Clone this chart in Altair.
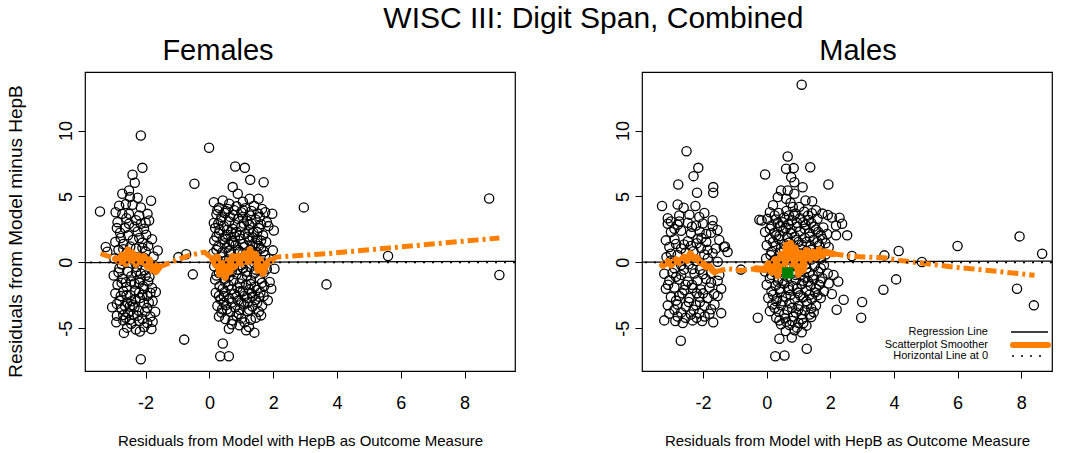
import altair as alt
import pandas as pd

FONT = "Liberation Sans"
ORANGE = "#ff8000"
GREEN = "#008000"

# axis ranges and tick values
Y_DOMAIN = [-8.24, 14.44]
FEMALE_X_DOMAIN = [-3.90, 9.58]
MALE_X_DOMAIN = [-3.92, 8.97]
X_TICKS = [-2, 0, 2, 4, 6, 8]
Y_TICKS = [-5, 0, 5, 10]

MAIN_TITLE = "WISC III: Digit Span, Combined"
X_TITLE = "Residuals from Model with HepB as Outcome Measure"
Y_TITLE = "Residuals from Model minus HepB"
LEGEND_LABELS = ["Regression Line", "Scatterplot Smoother", "Horizontal Line at 0"]

# ---- Females: residual pairs -------------------------------------------
female_low_group = [
    (-2.15, 9.62), (-2.10, 7.17), (-2.41, 6.64), (-2.34, 6.04), (-2.52, 5.45), (-2.73, 5.20),
    (-2.49, 4.95), (-2.25, 4.90), (-2.83, 4.30), (-2.62, 4.42), (-2.41, 4.37), (-2.15, 4.17),
    (-1.83, 4.68), (-2.94, 3.80), (-2.73, 3.68), (-2.52, 3.68), (-2.20, 3.56), (-1.94, 3.68),
    (-2.88, 3.05), (-2.52, 2.93), (-2.15, 2.93), (-1.89, 3.18), (-2.80, 2.25), (-2.55, 2.05),
    (-2.25, 2.35), (-1.98, 2.10), (-1.62, 0.90), (-2.95, 1.55), (-2.70, 1.40), (-2.40, 1.70),
    (-2.10, 1.50), (-1.80, 1.75), (-3.25, 1.16), (-3.20, 0.80), (-3.43, 3.86), (-2.85, 0.95),
    (-2.60, 0.70), (-2.30, 1.05), (-2.00, 0.80), (-1.75, 0.45), (-2.98, 0.30), (-2.70, 0.10),
    (-2.45, 0.40), (-2.15, 0.15), (-1.90, -0.05), (-2.82, -0.45), (-2.55, -0.70), (-2.28, -0.35),
    (-2.02, -0.60), (-1.72, -0.30), (-3.00, -1.00), (-2.72, -1.25), (-2.45, -1.05), (-2.18, -1.30),
    (-1.88, -1.10), (-2.88, -1.70), (-2.60, -1.85), (-2.35, -1.60), (-2.08, -1.80), (-1.80, -1.95),
    (-2.95, -2.35), (-2.70, -2.20), (-2.48, -2.50), (-2.20, -2.30), (-1.95, -2.55), (-1.68, -2.25),
    (-2.82, -2.90), (-2.58, -3.05), (-2.32, -2.80), (-2.05, -3.10), (-1.78, -2.95), (-3.05, -3.40),
    (-2.75, -3.55), (-2.50, -3.35), (-2.22, -3.65), (-1.95, -3.45), (-1.70, -3.75), (-2.90, -4.05),
    (-2.62, -4.20), (-2.38, -3.95), (-2.10, -4.30), (-1.85, -4.10), (-2.92, -4.55), (-2.70, -4.40),
    (-2.45, -4.65), (-1.78, -4.50), (-2.58, -4.95), (-2.30, -5.10), (-2.05, -4.90), (-1.82, -5.05),
    (-2.68, -5.35), (-2.18, -5.25), (-2.15, -7.35), (-2.65, 2.60), (-2.35, 2.70), (-2.05, 2.55),
    (-2.78, 1.85), (-2.48, 1.20), (-2.20, 1.85), (-1.92, 1.25), (-2.62, 0.35), (-2.32, -0.05),
    (-2.05, 0.35), (-2.75, -0.15), (-2.45, -1.45), (-2.15, -0.85), (-2.62, -1.50), (-1.92, -1.45),
    (-2.78, -2.55), (-2.32, -2.15), (-2.05, -2.00), (-2.45, -2.95), (-2.18, -2.70), (-2.65, -3.30),
    (-2.35, -3.40), (-2.02, -3.75), (-2.55, -3.85), (-2.25, -4.05), (-1.95, -4.60),
    (-2.90, 2.60), (-2.60, 3.35), (-2.30, 3.20), (-2.00, 3.00), (-2.70, 1.00), (-2.10, 1.10),
    (-2.85, -0.75), (-2.30, -0.75), (-2.00, -1.00), (-2.75, -1.55), (-2.20, -1.55), (-2.60, -2.50),
    (-2.10, -2.45), (-1.85, -2.30), (-2.90, -3.15), (-2.40, -3.25), (-1.90, -3.05), (-2.70, -4.00),
    (-2.20, -4.45), (-2.50, -4.35),
]

female_high_group = [
    (-0.01, 8.69), (0.81, 7.27), (1.11, 7.17), (1.28, 6.26), (1.70, 6.08), (0.73, 5.71),
    (0.14, 4.56), (0.42, 4.70), (0.89, 5.20), (1.26, 4.82), (1.54, 4.82), (0.62, 4.45),
    (1.05, 4.60), (1.75, 3.80), (1.97, 3.69), (0.14, 2.98), (2.96, 4.17), (-0.47, 5.96),
    (0.30, 4.15), (0.58, 4.05), (0.85, 4.25), (1.12, 4.10), (1.40, 4.30), (1.65, 4.05),
    (0.22, 3.65), (0.48, 3.75), (0.75, 3.60), (1.00, 3.80), (1.28, 3.55), (1.52, 3.70),
    (0.35, 3.20), (0.62, 3.10), (0.90, 3.30), (1.18, 3.15), (1.45, 3.25), (1.80, 3.05),
    (0.18, 2.60), (0.45, 2.75), (0.72, 2.55), (1.00, 2.70), (1.25, 2.85), (1.55, 2.60),
    (1.85, 2.75), (0.30, 2.20), (0.58, 2.10), (0.85, 2.30), (1.12, 2.15), (1.38, 2.25),
    (1.68, 2.05), (2.02, 2.42), (0.15, 1.65), (0.42, 1.75), (0.70, 1.60), (0.98, 1.80),
    (1.25, 1.65), (1.50, 1.75), (1.78, 1.55), (0.28, 1.20), (0.55, 1.10), (0.82, 1.30),
    (1.10, 1.15), (1.35, 1.25), (1.62, 1.05), (1.99, 0.91), (0.12, 0.70), (0.40, 0.75),
    (0.68, 0.60), (0.95, 0.80), (1.22, 0.65), (1.48, 0.78), (1.75, 0.55), (0.25, 0.20),
    (0.52, 0.15), (0.80, 0.30), (1.08, 0.10), (1.32, 0.25), (1.60, 0.05), (1.88, 0.25),
    (0.15, -0.30), (0.45, -0.25), (0.72, -0.40), (1.00, -0.20), (1.28, -0.35), (1.55, -0.28),
    (2.04, -0.48), (0.30, -0.80), (0.58, -0.75), (0.85, -0.90), (1.15, -0.70), (1.40, -0.85),
    (1.70, -0.78), (0.18, -1.30), (0.48, -1.25), (0.75, -1.40), (1.02, -1.20), (1.30, -1.35),
    (1.58, -1.25), (1.89, -1.49), (0.32, -1.80), (0.60, -1.75), (0.88, -1.90), (1.15, -1.70),
    (1.42, -1.85), (1.72, -1.80), (1.94, -2.00), (0.20, -2.30), (0.48, -2.25), (0.78, -2.40),
    (1.05, -2.20), (1.32, -2.35), (1.60, -2.28), (0.35, -2.80), (0.62, -2.75), (0.90, -2.90),
    (1.18, -2.70), (1.45, -2.85), (1.83, -2.88), (0.25, -3.30), (0.52, -3.25), (0.80, -3.40),
    (1.08, -3.20), (1.35, -3.35), (1.65, -3.28), (0.38, -3.80), (0.65, -3.75), (0.92, -3.90),
    (1.20, -3.70), (1.62, -4.02), (0.50, -4.30), (0.73, -4.40), (1.00, -4.25), (1.30, -4.35),
    (0.61, -5.03), (0.94, -4.77), (1.15, -5.15), (1.41, -5.33), (1.24, -4.90), (0.42, -6.16),
    (0.34, -7.12), (0.61, -7.12), (-0.79, -5.86), (-0.52, -0.91), (-0.97, 0.40), (-0.73, 0.62),
    (0.38, 3.45), (0.65, 3.45), (1.05, 3.45), (1.32, 2.95), (0.55, 2.45), (0.95, 2.05),
    (1.20, 1.95), (0.62, 1.35), (0.90, 0.95), (1.45, 1.45), (0.35, 0.45), (1.15, 0.45),
    (1.40, -0.05), (0.60, -0.05), (0.88, -0.55), (1.18, -1.00), (0.62, -1.05), (0.95, -1.60),
    (1.25, -2.05), (0.70, -2.05), (0.45, -2.55), (1.10, -2.55), (1.55, -2.60), (0.70, -3.05),
    (1.00, -3.05), (1.25, -3.60), (0.55, -3.55), (0.85, -4.05), (1.55, -3.75), (0.30, -4.10),
    (0.25, 3.95), (0.52, 3.90), (0.78, 3.95), (1.05, 3.95), (1.32, 3.90), (1.58, 3.45),
    (0.28, 2.95), (0.80, 2.85), (1.08, 2.95), (1.62, 2.90), (0.32, 2.45), (0.68, 2.30),
    (1.25, 2.45), (1.50, 2.30), (0.22, 1.95), (0.50, 1.95), (0.80, 1.95), (1.35, 1.90),
    (1.62, 1.65), (0.48, 1.45), (0.75, 1.45), (1.05, 1.40), (1.30, 0.95), (1.55, 1.25),
    (0.22, 0.95), (0.62, 0.90), (1.05, 0.70), (1.70, 0.85), (0.40, -0.55), (0.70, -0.70),
    (1.05, -0.45), (1.45, -0.55), (1.80, -0.50), (0.22, -1.00), (0.50, -1.50), (1.30, -1.65),
    (1.65, -1.55), (0.42, -2.00), (0.95, -2.20), (1.48, -2.10), (0.30, -2.55), (0.85, -2.60),
    (1.35, -2.60), (1.70, -2.55), (0.45, -3.05), (1.20, -3.05), (1.50, -3.05), (0.95, -3.60),
    (0.40, -3.55), (1.45, -4.20), (0.70, -4.70), (1.10, -4.55),
]

female_outlying = [(3.67, -1.67), (5.60, 0.48), (8.77, 4.85), (9.09, -0.96)]

# ---- Males: residual pairs ---------------------------------------------
male_low_group = [
    (-2.52, 8.43), (-2.15, 7.17), (-2.30, 6.54), (-2.78, 5.91), (-1.68, 5.71), (-1.68, 5.28),
    (-2.19, 5.28), (-3.29, 4.27), (-2.80, 4.39), (-2.61, 4.14), (-2.24, 4.27), (-3.11, 3.35),
    (-3.01, 3.10), (-2.75, 3.55), (-2.43, 3.62), (-2.12, 3.45), (-1.96, 3.75), (-1.70, 3.20),
    (-3.11, 2.93), (-2.80, 2.85), (-2.48, 3.00), (-2.22, 2.80), (-2.01, 2.95), (-1.70, 2.75),
    (-3.01, 2.30), (-2.69, 2.40), (-2.38, 2.20), (-2.11, 2.35), (-1.90, 2.15), (-1.55, 2.45),
    (-3.17, 1.67), (-2.90, 1.75), (-2.48, 1.60), (-2.17, 1.80), (-1.90, 1.55), (-1.49, 1.70),
    (-1.31, 1.20), (-3.06, 1.16), (-2.69, 1.05), (-2.38, 1.25), (-2.07, 1.10), (-1.86, 0.95),
    (-1.35, 1.16), (-3.01, 0.66), (-2.80, 0.55), (-2.54, 0.75), (-1.96, 0.60), (-1.70, 0.70),
    (-1.23, 0.78), (-3.01, 0.15), (-2.69, -0.20), (-2.22, 0.10), (-1.54, 0.05), (-2.90, -0.45),
    (-2.33, -0.50), (-3.22, -0.86), (-2.96, -0.80), (-2.69, -0.95), (-2.27, -0.85), (-2.01, -0.90),
    (-1.75, -0.80), (-1.49, -0.95), (-3.06, -1.36), (-2.75, -1.30), (-2.48, -1.45), (-2.17, -1.35),
    (-1.91, -1.25), (-1.54, -1.40), (-3.17, -2.00), (-2.90, -1.90), (-2.59, -2.10), (-2.33, -1.95),
    (-2.07, -2.05), (-1.80, -1.90), (-1.43, -2.00), (-3.01, -2.63), (-2.75, -2.55), (-2.43, -2.70),
    (-2.12, -2.60), (-1.86, -2.70), (-1.54, -2.55), (-3.11, -3.26), (-2.80, -3.20), (-2.54, -3.35),
    (-2.22, -3.25), (-1.96, -3.30), (-1.64, -3.20), (-3.06, -3.89), (-2.69, -3.80), (-2.38, -3.95),
    (-2.12, -3.85), (-1.80, -3.90), (-1.43, -3.85), (-3.22, -4.40), (-2.87, -4.45), (-2.64, -4.60),
    (-2.33, -4.40), (-2.03, -4.45), (-1.68, -4.55), (-2.70, -5.95), (-2.90, 2.55), (-2.60, 1.35),
    (-2.30, 0.85), (-2.45, -0.15), (-2.85, -1.10), (-2.35, -1.70), (-2.65, -2.35), (-2.00, -2.35),
    (-2.45, -3.00), (-2.90, -3.60), (-2.30, -3.60), (-2.55, -4.20), (-1.75, -1.55), (-1.85, 0.30),
    (-0.81, -0.55),
    (-3.15, 0.40), (-2.75, 3.10), (-2.35, 2.70), (-2.05, 1.85), (-1.75, 2.25), (-2.85, 1.40),
    (-2.20, 1.45), (-1.60, 1.05), (-2.60, -0.55), (-2.10, -0.55), (-3.10, -1.70), (-2.55, -1.70),
    (-2.20, -2.35), (-1.65, -2.40), (-2.85, -2.90), (-2.10, -3.00), (-1.75, -3.55), (-2.80, -4.10),
    (-2.20, -4.20), (-1.95, -4.10),
]

male_high_group = [
    (1.10, 13.48), (0.66, 8.03), (0.61, 7.10), (0.85, 7.15), (1.37, 7.22), (-0.05, 6.67),
    (0.77, 6.46), (0.87, 6.08), (1.13, 5.70), (1.94, 5.91), (0.45, 5.45), (0.66, 5.45),
    (0.87, 5.20), (0.35, 4.95), (0.61, 4.82), (1.22, 4.70), (1.43, 4.64), (0.20, 4.33),
    (0.82, 4.20), (1.02, 4.20), (-0.23, 3.23), (-0.16, 3.18), (2.29, 3.38), (2.18, 2.80),
    (2.37, 2.93), (2.53, 2.05), (2.18, 2.05), (2.68, 0.48), (1.55, 3.95), (1.75, 3.70),
    (1.92, 3.60), (2.05, 3.40), (0.10, 3.80), (0.38, 3.75), (0.62, 3.90), (0.90, 3.70),
    (1.18, 3.85), (1.42, 3.72), (0.02, 3.30), (0.28, 3.25), (0.55, 3.40), (0.80, 3.20),
    (1.05, 3.35), (1.32, 3.22), (1.60, 3.30), (0.15, 2.80), (0.42, 2.75), (0.68, 2.90),
    (0.95, 2.70), (1.22, 2.85), (1.48, 2.72), (1.78, 2.65), (-0.05, 2.30), (0.25, 2.25),
    (0.52, 2.40), (0.78, 2.20), (1.05, 2.35), (1.35, 2.22), (1.62, 2.30), (1.90, 2.15),
    (0.10, 1.80), (0.38, 1.75), (0.65, 1.90), (0.92, 1.70), (1.20, 1.85), (1.48, 1.72),
    (1.75, 1.80), (0.00, 1.30), (0.28, 1.25), (0.55, 1.40), (0.82, 1.20), (1.10, 1.35),
    (1.38, 1.22), (1.65, 1.30), (1.95, 1.15), (0.15, 0.80), (0.42, 0.75), (0.70, 0.90),
    (0.98, 0.70), (1.25, 0.85), (1.52, 0.72), (1.85, 0.60), (-0.02, 0.30), (0.30, 0.25),
    (0.58, 0.40), (0.85, 0.20), (1.12, 0.35), (1.40, 0.22), (1.70, 0.30), (0.12, -0.20),
    (0.40, -0.25), (0.68, -0.10), (0.95, -0.30), (1.22, -0.15), (1.50, -0.28), (1.80, -0.20),
    (-0.05, -0.70), (0.25, -0.75), (0.52, -0.60), (0.80, -0.80), (1.08, -0.65), (1.35, -0.78),
    (1.62, -0.70), (1.92, -0.85), (0.10, -1.20), (0.38, -1.25), (0.65, -1.10), (0.92, -1.30),
    (1.20, -1.15), (1.48, -1.28), (1.75, -1.20), (0.00, -1.70), (0.28, -1.75), (0.55, -1.60),
    (0.82, -1.80), (1.10, -1.65), (1.38, -1.78), (1.65, -1.70), (1.95, -1.60), (0.15, -2.20),
    (0.42, -2.25), (0.70, -2.10), (0.98, -2.30), (1.25, -2.15), (1.52, -2.28), (1.80, -2.20),
    (0.05, -2.70), (0.32, -2.75), (0.60, -2.60), (0.88, -2.80), (1.15, -2.65), (1.42, -2.78),
    (1.70, -2.70), (0.18, -3.20), (0.45, -3.25), (0.72, -3.10), (1.00, -3.30), (1.28, -3.15),
    (1.55, -3.28), (0.10, -3.70), (0.38, -3.75), (0.65, -3.60), (0.92, -3.80), (1.20, -3.65),
    (1.48, -3.78), (0.30, -4.20), (0.58, -4.25), (0.85, -4.10), (1.12, -4.30), (1.40, -4.15),
    (0.45, -4.70), (0.72, -4.75), (1.00, -4.60), (1.25, -4.80), (0.60, -5.20), (0.88, -5.15),
    (1.10, -5.30), (0.40, -5.80), (0.79, -5.70), (1.26, -6.55), (0.27, -7.12), (0.56, -7.07),
    (-0.28, -4.20), (2.42, -2.83), (3.00, -3.00), (2.20, -3.60), (2.97, -4.20), (2.10, -0.95),
    (2.25, -1.45), (2.05, -2.40), (0.50, 3.05), (0.75, 2.50), (1.00, 1.55), (0.45, 1.05),
    (0.60, -0.40), (0.90, -0.95), (0.35, -1.45), (1.30, -1.45), (0.70, -1.95), (1.05, -2.50),
    (0.50, -2.95), (0.80, -3.45), (1.10, -3.95), (0.62, -4.50), (0.95, -4.95), (1.35, -3.95),
    (0.20, -2.45), (1.55, -2.00), (0.22, 0.05), (1.30, 0.55), (1.60, 1.55), (0.30, 2.05),
    (0.85, 3.55), (1.15, 3.05), (0.75, 4.50),
    (0.25, 3.55), (0.70, 3.55), (1.30, 3.55), (0.35, 3.00), (0.95, 3.00), (1.40, 3.00),
    (0.10, 2.55), (0.60, 2.60), (1.20, 2.55), (1.55, 2.50), (0.40, 2.00), (0.88, 1.95),
    (1.35, 1.95), (1.70, 2.05), (0.20, 1.55), (0.70, 1.50), (1.25, 1.55), (1.85, 1.45),
    (0.55, 0.95), (1.10, 1.00), (1.40, 0.95), (1.65, 0.75), (0.12, 0.55), (0.95, 0.45),
    (1.55, 0.45), (0.35, -0.50), (1.25, -0.45), (1.70, -0.45), (0.15, -0.95), (1.05, -0.95),
    (1.45, -1.00), (0.50, -1.40), (1.15, -1.40), (1.70, -1.45), (0.40, -2.00), (0.95, -2.00),
    (1.35, -2.45), (0.75, -2.45), (1.60, -2.50), (0.30, -2.95), (1.25, -2.95), (1.00, -3.55),
    (0.55, -3.95), (1.40, -3.50), (0.25, -3.45), (0.80, -4.45), (1.15, -4.60), (0.40, -4.40),
]

male_outlying = [
    (3.70, 0.53), (4.15, 0.86), (3.67, -2.07), (4.07, -1.29), (4.88, 0.03), (6.00, 1.24),
    (7.95, 1.97), (8.66, 0.66), (7.87, -2.00), (8.40, -3.26),
]

# ---- fitted lines ---------------------------------------------------------
female_regression = [(-3.90, -0.02), (9.58, 0.08)]
male_regression = [(-3.92, 0.02), (8.97, 0.10)]

# smoother traced in data order: open stretches and the tangled stretches
female_smoother_open = [
    [(-3.41, 0.66), (-2.94, 0.28)],
    [(-1.57, -0.35), (-1.05, 0.15), (-0.63, 0.53), (-0.16, 0.78), (0.10, 0.28)],
    [(1.94, 0.15), (2.10, 0.40), (3.77, 0.68), (9.09, 1.85)],
]
female_smoother_tangled = [
    [(-2.94, 0.28), (-2.80, 0.05), (-2.75, 0.55), (-2.62, -0.10), (-2.55, 0.95), (-2.48, 0.20),
     (-2.40, 0.70), (-2.30, -0.15), (-2.22, 0.50), (-2.12, 0.05), (-2.05, 0.45), (-1.95, -0.30),
     (-1.88, 0.20), (-1.80, -0.55), (-1.72, -0.20), (-1.68, -0.70), (-1.57, -0.35)],
    [(0.10, 0.28), (0.20, -0.20), (0.25, 0.40), (0.32, -0.90), (0.42, -0.10), (0.50, -1.15),
     (0.58, 0.10), (0.65, -0.70), (0.72, 0.45), (0.80, -0.30), (0.90, 0.50), (1.00, -0.10),
     (1.10, 0.65), (1.20, 0.05), (1.27, 0.95), (1.35, 0.10), (1.45, 0.60), (1.52, -0.60),
     (1.60, 0.20), (1.68, -0.85), (1.75, -0.30), (1.85, 0.05), (1.94, 0.15)],
]
male_smoother_open = [
    [(-1.64, -0.73), (-1.23, -0.48), (-0.81, -0.61), (-0.34, -0.48)],
    [(2.07, 0.66), (2.67, 0.45), (3.70, 0.35), (4.15, 0.15), (4.90, -0.06), (5.85, -0.35),
     (6.90, -0.60), (8.42, -0.98)],
]
male_smoother_tangled = [
    [(-3.27, -0.23), (-3.10, 0.05), (-3.00, -0.20), (-2.85, 0.20), (-2.75, 0.00), (-2.60, 0.40),
     (-2.50, 0.15), (-2.40, 0.66), (-2.30, 0.30), (-2.20, 0.35), (-2.10, 0.00), (-2.00, -0.10),
     (-1.90, -0.35), (-1.80, -0.30), (-1.70, -0.60), (-1.64, -0.73)],
    [(-0.34, -0.48), (-0.05, -0.55), (0.05, -0.10), (0.15, -0.75), (0.25, 0.20), (0.35, -1.00),
     (0.45, 0.60), (0.55, -0.40), (0.62, 1.30), (0.70, 0.20), (0.75, 1.45), (0.82, -0.20),
     (0.90, 1.10), (1.00, -0.90), (1.08, 0.70), (1.15, -0.60), (1.25, 0.90), (1.35, 0.20),
     (1.45, 0.80), (1.55, 0.35), (1.65, 0.95), (1.75, 0.50), (1.81, 0.79), (2.07, 0.66)],
]
male_center_marker = [(0.66, -0.80)]


def points_frame(*groups):
    rows = [p for g in groups for p in g]
    return pd.DataFrame(rows, columns=["x", "y"])


def segments_frame(segments):
    rows = []
    for s, seg in enumerate(segments):
        for i, (x, y) in enumerate(seg):
            rows.append({"x": x, "y": y, "seg": s, "i": i})
    return pd.DataFrame(rows)


# plain hyphen-minus on tick labels
PLAIN_LABEL = "'' + datum.value"


def build_panel(points, open_segs, tangled_segs, regression, x_domain, width,
                panel_title, title_dx, show_y_title, legend=False, marker=None):
    x_axis = alt.Axis(
        values=X_TICKS, title=X_TITLE, tickSize=7, labelPadding=16, titlePadding=21,
        labelFontSize=18, titleFontSize=15, labelFont=FONT, titleFont=FONT,
        titleFontWeight="normal", domain=False, grid=False, tickColor="black",
        labelColor="black", titleColor="black", labelFlush=False, labelExpr=PLAIN_LABEL,
    )
    y_kw = dict(
        values=Y_TICKS, tickSize=7, labelPadding=3, labelFontSize=18, labelFont=FONT,
        labelAngle=270, labelAlign="center", labelBaseline="bottom", domain=False,
        grid=False, tickColor="black", labelColor="black", labelFlush=False,
        labelExpr=PLAIN_LABEL,
    )
    if show_y_title:
        y_kw.update(title=Y_TITLE, titleFontSize=19, titleFont=FONT, titleFontWeight="normal",
                    titleColor="black", titlePadding=32, titleY=159)
    else:
        y_kw.update(title=None)
    x_enc = alt.X("x:Q", scale=alt.Scale(domain=x_domain, nice=False, zero=False), axis=x_axis)
    y_enc = alt.Y("y:Q", scale=alt.Scale(domain=Y_DOMAIN, nice=False, zero=False),
                  axis=alt.Axis(**y_kw))

    scatter = alt.Chart(points).mark_point(
        shape="circle", filled=False, color="black", size=85, strokeWidth=1.3, opacity=1
    ).encode(x=x_enc, y=y_enc)

    reg = alt.Chart(pd.DataFrame(regression, columns=["x", "y"])).mark_line(
        color="black", strokeWidth=1.2, clip=True
    ).encode(x=x_enc, y=y_enc)

    tangled = alt.Chart(segments_frame(tangled_segs)).mark_line(
        color=ORANGE, strokeWidth=7, strokeJoin="round", strokeCap="round", clip=True
    ).encode(x=x_enc, y=y_enc, detail="seg:N", order="i:Q")

    opened = alt.Chart(segments_frame(open_segs)).mark_line(
        color=ORANGE, strokeWidth=5, strokeDash=[11, 4, 3, 4], strokeCap="butt", clip=True
    ).encode(x=x_enc, y=y_enc, detail="seg:N", order="i:Q")

    zero = alt.Chart(pd.DataFrame({"y": [0.0]})).mark_rule(
        color="black", strokeWidth=1.6, strokeDash=[2, 7]
    ).encode(y=y_enc)

    layers = [scatter, reg, tangled, opened, zero]

    if marker is not None:
        layers.append(
            alt.Chart(pd.DataFrame(marker, columns=["x", "y"])).mark_point(
                shape="square", filled=True, color=GREEN, size=130, opacity=1
            ).encode(x=x_enc, y=y_enc)
        )

    if legend:
        text_y = [260, 273, 284]
        for label, ty in zip(LEGEND_LABELS, text_y):
            layers.append(
                alt.Chart(pd.DataFrame({"label": [label]})).mark_text(
                    align="right", baseline="middle", font=FONT, fontSize=11, color="black"
                ).encode(x=alt.value(346), y=alt.value(ty), text="label:N")
            )
        layers.append(
            alt.Chart(pd.DataFrame({"k": [0]})).mark_rule(color="black", strokeWidth=1.3)
            .encode(x=alt.value(369), x2=alt.value(406), y=alt.value(text_y[0]))
        )
        layers.append(
            alt.Chart(pd.DataFrame({"k": [0]})).mark_rule(
                color=ORANGE, strokeWidth=6, strokeCap="round"
            ).encode(x=alt.value(371), x2=alt.value(406), y=alt.value(text_y[1]))
        )
        layers.append(
            alt.Chart(pd.DataFrame({"k": [0]})).mark_rule(
                color="black", strokeWidth=1.5, strokeDash=[2, 7]
            ).encode(x=alt.value(370), x2=alt.value(400), y=alt.value(text_y[2]))
        )

    return alt.layer(*layers).properties(
        width=width, height=299,
        title=alt.TitleParams(panel_title, fontSize=29, font=FONT, fontWeight="normal",
                              color="black", anchor="middle", dx=title_dx, offset=6),
    )


female_panel = build_panel(
    points_frame(female_low_group, female_high_group, female_outlying),
    female_smoother_open, female_smoother_tangled, female_regression,
    FEMALE_X_DOMAIN, 430, "Females", -82, True,
)
male_panel = build_panel(
    points_frame(male_low_group, male_high_group, male_outlying),
    male_smoother_open, male_smoother_tangled, male_regression,
    MALE_X_DOMAIN, 410, "Males", 11, False, legend=True, marker=male_center_marker,
)

chart = alt.hconcat(female_panel, male_panel, spacing=96).properties(
    title=alt.TitleParams(MAIN_TITLE, fontSize=30, font=FONT, fontWeight="normal",
                          color="black", anchor="middle", offset=2, dx=64),
    padding={"left": 5, "top": 4, "right": 10, "bottom": 5},
    background="white",
).configure_view(stroke="black", strokeWidth=1.2)

chart.save("out.html", embed_options={"renderer": "svg", "actions": False})
